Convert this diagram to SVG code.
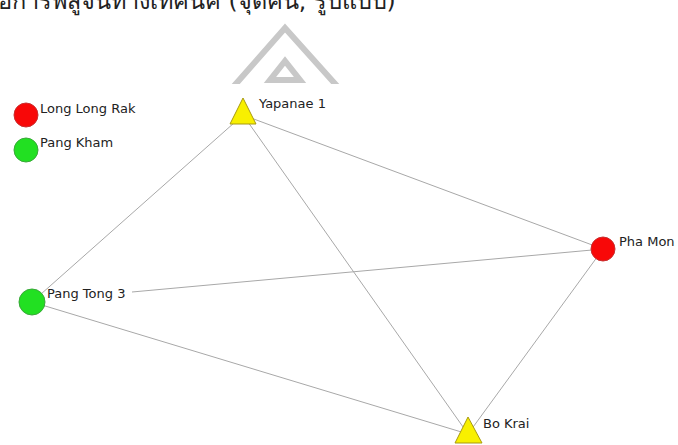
<svg xmlns="http://www.w3.org/2000/svg" width="678" height="445" viewBox="0 0 678 445">
<style>
.lbl{font-family:"DejaVu Sans",Verdana,sans-serif;font-size:13px;fill:#222}
.edge{stroke:#a8a8a8;stroke-width:1;fill:none}
.red{fill:#f80808;stroke:#c83030;stroke-width:1}
.green{fill:#22e022;stroke:#3aa83a;stroke-width:1}
.yellow{fill:#f8f000;stroke:#a89a10;stroke-width:1}
.wm{stroke:#c8c8c8;stroke-width:6;fill:none}
</style>
<rect width="678" height="445" fill="#fff"/>
<text x="-2" y="9" style="font-family:'DejaVu Sans','Noto Sans',sans-serif;font-size:23.5px;fill:#222">อการพิสูจน์ทางเทคนิค (จุดค้น, รูปแบบ)</text>
<g id="watermark">
<path class="wm" d="M234,86 L285,28 L337,86"/>
<path class="wm" d="M285,61 L270,80 L300,80 Z"/>
<rect x="220" y="84" width="130" height="8" fill="#fff"/>
</g>
<g id="edges">
<line class="edge" x1="243" y1="115" x2="32" y2="302"/>
<line class="edge" x1="243" y1="115" x2="603" y2="249"/>
<line class="edge" x1="243" y1="115" x2="468" y2="434"/>
<line class="edge" x1="132" y1="292" x2="603" y2="249"/>
<line class="edge" x1="32" y1="302" x2="468" y2="434"/>
<line class="edge" x1="603" y1="249" x2="468" y2="434"/>
</g>
<g id="legend-long-long-rak">
<circle class="red" cx="26" cy="115" r="12"/>
<text class="lbl" x="40" y="113">Long Long Rak</text>
</g>
<g id="legend-pang-kham">
<circle class="green" cx="26" cy="150" r="12"/>
<text class="lbl" x="40" y="147">Pang Kham</text>
</g>
<g id="node-yapanae1">
<polygon class="yellow" points="243,98 230,124 256,124"/>
<text class="lbl" x="259" y="108">Yapanae 1</text>
</g>
<g id="node-phamon">
<circle class="red" cx="603" cy="249" r="12"/>
<text class="lbl" x="619" y="246">Pha Mon</text>
</g>
<g id="node-pangtong3">
<circle class="green" cx="32" cy="302" r="13"/>
<text class="lbl" x="47" y="298">Pang Tong 3</text>
</g>
<g id="node-bokrai">
<polygon class="yellow" points="468,417 455,443 482,443"/>
<text class="lbl" x="483" y="428">Bo Krai</text>
</g>
</svg>
